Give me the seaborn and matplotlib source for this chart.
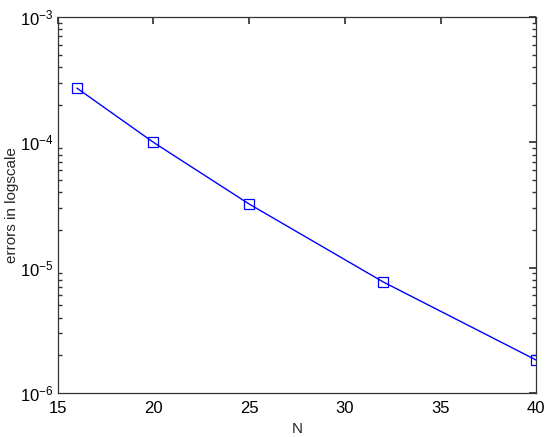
import matplotlib
matplotlib.use("Agg")
import matplotlib.pyplot as plt
import seaborn as sns
import pandas as pd

N = [16, 20, 25, 32, 40]
errors = [2.71e-4, 1.0e-4, 3.22e-5, 7.7e-6, 1.83e-6]

sns.set_theme(style="white")
plt.rcParams['font.family'] = ['Liberation Sans', 'DejaVu Sans']

df = pd.DataFrame({"N": N, "err": errors})
fig = plt.figure(figsize=(5.5, 4.37), dpi=100)
ax = fig.add_axes([0.105, 0.1007, 0.870, 0.8603])
sns.lineplot(data=df, x="N", y="err", ax=ax, color="#0000ff", linewidth=1.0,
             marker="s", markersize=7, markerfacecolor="none",
             markeredgecolor="#0000ff", markeredgewidth=0.9)
ax.set_yscale("log")
ax.set_xlim(15, 40)
ax.set_ylim(1e-6, 1e-3)
ax.set_xticks([15, 20, 25, 30, 35, 40])
ax.set_xlabel("N", fontsize=11, labelpad=4)
ax.set_ylabel("errors in logscale", fontsize=11, labelpad=1)
for s in ax.spines.values():
    s.set_color("#333333")
    s.set_linewidth(0.9)
ax.tick_params(which="both", direction="in", top=True, right=True,
               labelsize=12, colors="#333333", labelcolor="black")
ax.tick_params(which="major", length=5)
ax.tick_params(axis="x", which="major", pad=6)
ax.tick_params(axis="y", which="major", pad=3)
ax.tick_params(which="minor", length=3, left=True, right=True)
fig.savefig("out.png", dpi=100)
